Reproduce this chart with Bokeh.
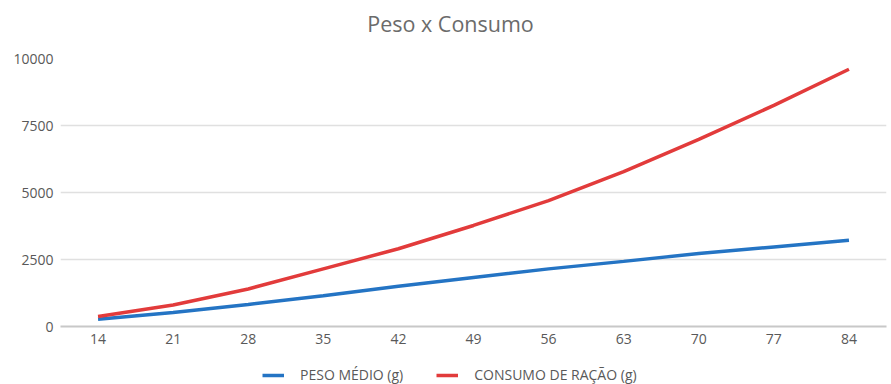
from bokeh.plotting import figure
from bokeh.layouts import column
from bokeh.models import FactorRange, Range1d, Legend, LegendItem, Label, FixedTicker, NumeralTickFormatter
from bokeh.embed import file_html
from bokeh.resources import INLINE

# Age in days (categories) and the two series
dias = ["14", "21", "28", "35", "42", "49", "56", "63", "70", "77", "84"]
peso_medio = [270, 520, 820, 1150, 1500, 1830, 2150, 2430, 2720, 2970, 3220]
consumo_racao = [370, 800, 1400, 2150, 2900, 3770, 4700, 5780, 6980, 8250, 9600]
y_ticks = [0, 2500, 5000, 7500, 10000]
series_labels = ["PESO MÉDIO (g)", "CONSUMO DE RAÇÃO (g)"]
series_colors = ["#2474c4", "#e23b3b"]
chart_title = "Peso x Consumo"

FONT = "Open Sans"
TEXT = "#595959"
W = 891


def strip(height):
    """Blank full-width canvas used for the heading and the legend."""
    s = figure(
        width=W, height=height, frame_width=W, frame_height=height,
        x_range=Range1d(0, W), y_range=Range1d(0, height),
        output_backend="svg", toolbar_location=None,
        min_border=0, x_axis_type=None, y_axis_type=None,
    )
    s.outline_line_color = None
    s.xgrid.grid_line_color = None
    s.ygrid.grid_line_color = None
    return s


# heading (the column aligns this strip with the chart frame, 60px in)
head = strip(48)
head.add_layout(Label(x=390, y=25, text=chart_title, text_align="center",
                      text_baseline="middle", text_font=FONT,
                      text_font_size="21.5px", text_color="#6b6b6b"))

# main chart
p = figure(
    width=W, height=314,
    frame_width=826, frame_height=268,
    x_range=FactorRange(*dias, range_padding=0),
    y_range=Range1d(0, 10000),
    output_backend="svg", toolbar_location=None,
    min_border_left=60, min_border_right=5,
    min_border_top=10, min_border_bottom=36,
)
p.outline_line_color = None
p.background_fill_color = "white"

p.yaxis.ticker = FixedTicker(ticks=y_ticks)
p.yaxis.formatter = NumeralTickFormatter(format="0")
p.yaxis.axis_line_color = None
p.yaxis.major_tick_line_color = None
p.yaxis.major_tick_out = 0
p.yaxis.minor_tick_line_color = None
p.yaxis.major_label_text_font = FONT
p.yaxis.major_label_text_font_size = "14px"
p.yaxis.major_label_text_color = TEXT
p.yaxis.major_label_standoff = 7

p.xaxis.axis_line_color = "#c8c8c8"
p.xaxis.axis_line_width = 2
p.xaxis.major_tick_line_color = None
p.xaxis.major_tick_out = 0
p.xaxis.minor_tick_line_color = None
p.xaxis.major_label_text_font = FONT
p.xaxis.major_label_text_font_size = "14px"
p.xaxis.major_label_text_color = TEXT
p.xaxis.major_label_standoff = 7

p.xgrid.grid_line_color = None
p.ygrid.ticker = FixedTicker(ticks=y_ticks)
p.ygrid.grid_line_color = "#e0e0e0"
p.ygrid.grid_line_width = 1.5

p.line(dias, peso_medio, line_color=series_colors[0], line_width=3.5)
p.line(dias, consumo_racao, line_color=series_colors[1], line_width=3.5)

# legend strip underneath the chart (swatch lines sit outside the visible range)
leg = strip(22)
swatches = [leg.line(x=[-10, -5], y=[-10, -5], line_color=c, line_width=3.5)
            for c in series_colors]
legend = Legend(
    items=[LegendItem(label=lab, renderers=[r]) for lab, r in zip(series_labels, swatches)],
    orientation="horizontal", location=(262, 0),
    padding=0, margin=0,
    label_text_font=FONT, label_text_font_size="14px", label_text_color=TEXT,
    glyph_width=22, glyph_height=14, label_height=14, spacing=33, label_standoff=16,
    border_line_color=None, background_fill_alpha=0,
)
leg.add_layout(legend, "center")

open("out.html", "w").write(file_html(column(head, p, leg, spacing=0), INLINE))
